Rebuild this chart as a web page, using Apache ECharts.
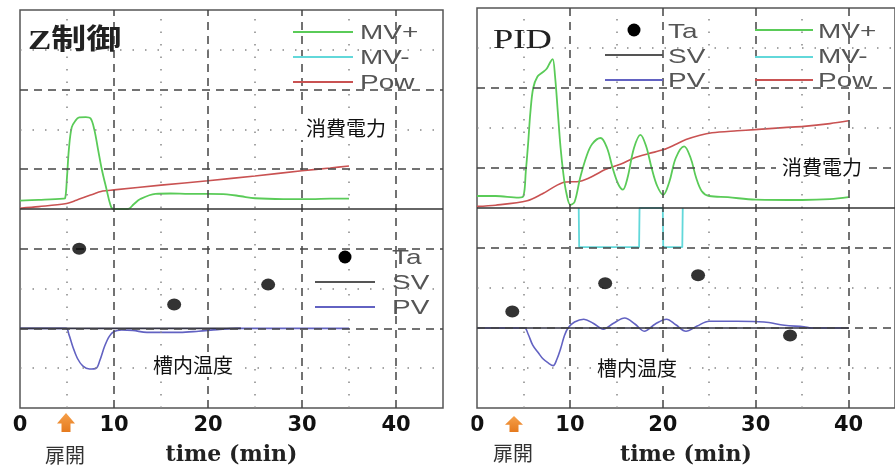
<!DOCTYPE html>
<html><head><meta charset="utf-8">
<script src="https://cdn.jsdelivr.net/npm/echarts@6/dist/echarts.min.js"></script>
<style>html,body{margin:0;padding:0;background:#fff}#c{width:895px;height:471px}</style>
</head><body><div id="c"></div>
<script>
// ---- axes ----
const timeTicks = [0, 10, 20, 30, 40];
const timeMax = 45;
const majorTimeLines = [10, 20, 30, 40];
const minorTimeLines = [5, 15, 25, 35];
const majorLevelLines = [-3, -1, 1, 3];
const minorLevelLines = [-4, -2, 2, 4];
const levelMin = -5, levelMax = 5;

// ---- Z制御 panel (upper half: MV / Pow, lower half: temperature) ----
const zMVplus = [[0,0.21],[2,0.23],[4.6,0.26],[4.8,0.27],[5.0,0.8],[5.2,1.5],[5.5,2.05],[5.9,2.22],[6.3,2.3],[7.0,2.31],[7.5,2.28],[7.9,2.0],[8.3,1.5],[8.7,1.0],[9.2,0.5],[9.6,0.12],[9.9,0],[11.5,0],[12.1,0.12],[12.8,0.25],[14.4,0.38],[16,0.39],[18,0.38],[20,0.38],[22,0.37],[23.5,0.32],[25,0.27],[28,0.25],[31,0.25],[33,0.26],[35,0.26]];
const zMVminus = [];
const zPow = [[0,0.02],[2,0.06],[4.8,0.13],[6,0.22],[7.5,0.35],[8.8,0.45],[10,0.48],[15,0.6],[20,0.71],[25,0.83],[30,0.96],[33,1.03],[35,1.08]];
const zSV = [[0,-3],[23.5,-3]];
const zPV = [[0,-3],[4.9,-3],[5.2,-3.15],[5.6,-3.45],[6.1,-3.75],[6.7,-3.95],[7.4,-4.02],[8.1,-4.0],[8.5,-3.8],[9.0,-3.45],[9.5,-3.2],[10,-3.08],[10.8,-3.04],[12,-3.05],[13.5,-3.1],[17,-3.1],[19,-3.07],[21,-3.03],[23,-3.0],[35,-3.0]];
const zTa = [[6.3,-1.0],[16.4,-2.4],[26.4,-1.9]];

// ---- PID panel ----
const pMVplus = [[0,0.3],[2,0.3],[4.5,0.26],[5.0,0.3],[5.25,0.9],[5.5,1.6],[5.75,2.4],[6.05,3.0],[6.5,3.28],[7.0,3.38],[7.5,3.48],[7.9,3.65],[8.15,3.72],[8.4,3.3],[8.7,2.4],[9.0,1.5],[9.3,0.85],[9.6,0.4],[10.05,0.08],[10.5,0.15],[11.1,0.75],[11.8,1.3],[12.4,1.6],[13.3,1.75],[14.0,1.5],[14.6,1.0],[15.2,0.6],[15.7,0.46],[16.2,0.75],[16.9,1.5],[17.6,1.83],[18.2,1.55],[18.8,1.0],[19.4,0.55],[20.05,0.33],[20.7,0.65],[21.4,1.25],[22.3,1.54],[23.0,1.25],[23.6,0.75],[24.2,0.42],[25,0.3],[27,0.27],[30,0.21],[35,0.2],[38,0.22],[40,0.27]];
const pMVminus = [[10.95,0],[11.0,-0.98],[17.45,-0.98],[17.5,0],[20.0,0],[20.05,-0.98],[22.1,-0.98],[22.15,0]];
const pPow = [[0,0.04],[2,0.07],[5.4,0.18],[7,0.35],[9.2,0.63],[11.1,0.67],[12.5,0.8],[13.8,0.96],[15.5,1.1],[16.9,1.25],[18.5,1.36],[20.1,1.46],[21.3,1.58],[22.5,1.71],[24,1.82],[25.3,1.88],[28,1.93],[29.9,1.96],[33,2.01],[35.2,2.04],[38,2.11],[40,2.18]];
const pSV = [[0,-3],[40,-3]];
const pPV = [[0,-3],[5.1,-3],[5.5,-3.15],[6.0,-3.43],[6.6,-3.62],[7.1,-3.77],[7.7,-3.88],[8.2,-3.94],[8.6,-3.78],[9.0,-3.52],[9.4,-3.2],[9.8,-3.0],[10.5,-2.85],[11.5,-2.78],[12.5,-2.88],[13.6,-3.03],[14.7,-2.88],[15.9,-2.75],[17.0,-2.9],[18.0,-3.08],[19.2,-2.9],[20.4,-2.78],[21.4,-2.92],[22.5,-3.08],[23.7,-2.95],[25.0,-2.83],[28,-2.83],[30.9,-2.85],[33.1,-2.93],[35.2,-2.97],[36,-3.0],[40,-3.0]];
const pTa = [[3.8,-2.59],[13.8,-1.88],[23.8,-1.68],[33.7,-3.19]];

// ---- texts ----
const panelTitles = ['Z制御', 'PID'];
const powerLabel = '消費電力';
const tempLabel = '槽内温度';
const doorLabel = '扉開';
const axisName = 'time (min)';

// ---- styles ----
const C = { mvp:'#5acb58', mvm:'#62d8da', pow:'#c95252', pv:'#6262c2', sv:'#333344', ta:'#000' };
const dashStyle = { color:'#444', width:1.5, type:[8,6] };
const dotStyle = { color:'#888', width:1.5, type:[1.5,11] };

const panels = [
  { mvp:zMVplus, mvm:zMVminus, pow:zPow, sv:zSV, pv:zPV, ta:zTa },
  { mvp:pMVplus, mvm:pMVminus, pow:pPow, sv:pSV, pv:pPV, ta:pTa }
];

const grids = [
  { left:20, top:10, width:423, height:398 },
  { left:477, top:8, width:427.5, height:401 }
].map(g => Object.assign({ show:true, borderColor:'#555', borderWidth:1.5, backgroundColor:'transparent' }, g));

const xAxes = grids.map((g, i) => ({
  gridIndex:i, type:'value', min:0, max:timeMax,
  axisLine:{show:false}, axisTick:{show:false}, splitLine:{show:false},
  axisLabel:{ customValues:timeTicks, margin:7, color:'#111', fontFamily:'DejaVu Sans', fontWeight:'bold', fontSize:21 },
  name:axisName, nameLocation:'middle', nameGap:36,
  nameTextStyle:{ fontFamily:'DejaVu Serif', fontWeight:'bold', fontSize:22, color:'#222' }
}));
const yAxes = grids.map((g, i) => ({ gridIndex:i, type:'value', min:levelMin, max:levelMax, show:false }));

const series = [];
panels.forEach((p, i) => {
  const base = { xAxisIndex:i, yAxisIndex:i, symbol:'none', silent:true };
  const lines = []
    .concat(majorTimeLines.map(v => ({ xAxis:v, lineStyle:dashStyle })))
    .concat(minorTimeLines.map(v => ({ xAxis:v, lineStyle:dotStyle })))
    .concat(majorLevelLines.map(v => ({ yAxis:v, lineStyle:dashStyle })))
    .concat(minorLevelLines.map(v => ({ yAxis:v, lineStyle:dotStyle })));
  series.push(Object.assign({}, base, { type:'line', name:'grid'+i, data:[], z:1,
    markLine:{ silent:true, symbol:['none','none'], label:{show:false}, data:lines } }));
  series.push(Object.assign({}, base, { type:'line', name:'Pow', data:p.pow, z:3, smooth:0.3, lineStyle:{color:C.pow, width:1.6} }));
  series.push(Object.assign({}, base, { type:'line', name:'MV+', data:p.mvp, z:3, smooth:0.35, lineStyle:{color:C.mvp, width:1.8} }));
  series.push(Object.assign({}, base, { type:'line', name:'MV-', data:p.mvm, z:3, lineStyle:{color:C.mvm, width:1.8} }));
  series.push(Object.assign({}, base, { type:'line', name:'PV', data:p.pv, z:3, smooth:0.35, lineStyle:{color:C.pv, width:1.6} }));
  series.push(Object.assign({}, base, { type:'line', name:'SV', data:p.sv, z:4, lineStyle:{color:C.sv, width:1.6} }));
  series.push(Object.assign({}, base, { type:'scatter', name:'Ta', data:p.ta, z:5, symbol:'circle', symbolSize:[14,12], itemStyle:{color:C.ta} }));
  series.push(Object.assign({}, base, { type:'line', name:'zero'+i, data:[], z:6,
    markLine:{ silent:true, symbol:['none','none'], label:{show:false}, data:[{ yAxis:0, lineStyle:{color:'#333', width:1.6, type:'solid'} }] } }));
});

// ---- graphic annotations ----
const legendFont = '21px "Liberation Sans", Arial, sans-serif';
function legText(x, y, t) {
  return { type:'text', x:x, y:y, scaleX:1.33, z:50, style:{ text:t, font:legendFont, fill:'#555', align:'left', verticalAlign:'middle' } };
}
function legLine(x1, x2, y, color) {
  return { type:'line', z:50, shape:{x1:x1, y1:y, x2:x2, y2:y}, style:{ stroke:color, lineWidth:1.8 } };
}
function legDot(cx, cy) {
  return { type:'circle', z:50, shape:{cx:cx, cy:cy, r:6.5}, style:{ fill:'#000' } };
}
function note(x, y, t, size) {
  return { type:'text', x:x, y:y, z:60, style:{ text:t, font:(size||20)+'px "Noto Sans CJK JP", sans-serif', fill:'#111', align:'center', verticalAlign:'middle', backgroundColor:'#fff', padding:[2,6] } };
}
function arrow(cx, top, bottom) {
  const head = top + (bottom - top) * 0.55;
  return { type:'polygon', z:60, shape:{ points:[[cx, top],[cx+9, head],[cx+4.5, head],[cx+4.5, bottom],[cx-4.5, bottom],[cx-4.5, head],[cx-9, head]] },
    style:{ fill:new echarts.graphic.LinearGradient(0,0,0,1,[{offset:0,color:'#f6a04a'},{offset:1,color:'#e57a1e'}]) } };
}

const graphics = [
  { type:'text', x:28, y:42, scaleX:1.25, z:50, style:{ text:panelTitles[0], font:'bold 28px "Liberation Serif", "Noto Sans CJK JP", serif', fill:'#222', align:'left', verticalAlign:'middle' } },
  { type:'text', x:493, y:41, scaleX:1.35, z:50, style:{ text:panelTitles[1], font:'27px "Liberation Serif", serif', fill:'#222', align:'left', verticalAlign:'middle' } },
  // left legends
  legLine(293, 353, 32, C.mvp), legText(360, 33, 'MV+'),
  legLine(293, 353, 57, C.mvm), legText(360, 58, 'MV-'),
  legLine(293, 353, 82, C.pow), legText(360, 83, 'Pow'),
  legDot(345, 257), legText(392, 258, 'Ta'),
  legLine(315, 375, 282, '#555'), legText(392, 283, 'SV'),
  legLine(315, 375, 307, C.pv), legText(392, 308, 'PV'),
  // right legends
  legDot(634, 30), legText(668, 32, 'Ta'),
  legLine(605, 663, 55, '#555'), legText(668, 57, 'SV'),
  legLine(605, 663, 80, C.pv), legText(668, 81, 'PV'),
  legLine(755, 813, 30, C.mvp), legText(818, 32, 'MV+'),
  legLine(755, 813, 57, C.mvm), legText(818, 57, 'MV-'),
  legLine(755, 813, 80, C.pow), legText(818, 81, 'Pow'),
  // notes
  note(346, 128, powerLabel), note(822, 167, powerLabel),
  note(193, 365, tempLabel), note(637, 368, tempLabel),
  { type:'text', x:65, y:455, z:60, style:{ text:doorLabel, font:'20px "Noto Sans CJK JP", sans-serif', fill:'#333', align:'center', verticalAlign:'middle' } },
  { type:'text', x:513, y:453, z:60, style:{ text:doorLabel, font:'20px "Noto Sans CJK JP", sans-serif', fill:'#333', align:'center', verticalAlign:'middle' } },
  arrow(66, 413, 432), arrow(514, 416, 432),
  { type:'rect', z:70, shape:{x:455, y:414, width:16.5, height:26}, style:{fill:'#fff'} }
];

const chart = echarts.init(document.getElementById('c'), null, { renderer:'canvas' });
chart.setOption({
  animation:false,
  backgroundColor:'#fff',
  grid:grids, xAxis:xAxes, yAxis:yAxes,
  series:series,
  graphic:graphics
});
</script></body></html>
